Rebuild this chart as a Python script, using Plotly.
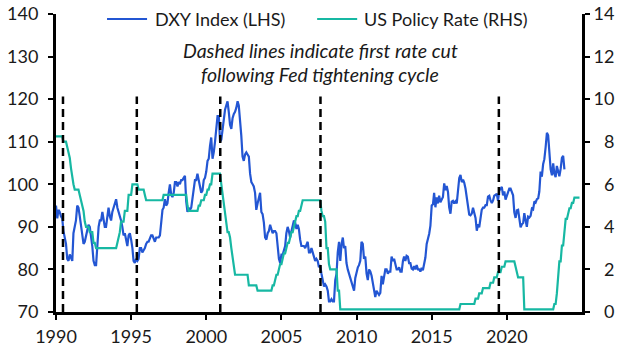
import pandas as pd
import plotly.graph_objects as go

start_month = "1990-01-01"

dxy = [
    95.0, 92.0, 94.0, 93.5, 92.5, 92.0, 89.0, 87.0, 86.0, 82.5, 82.0, 83.5,
    82.5, 82.0, 88.5, 90.5, 91.5, 95.0, 94.5, 92.5, 90.0, 89.0, 86.0, 86.5,
    88.0, 90.0, 90.5, 90.0, 88.0, 85.5, 82.0, 81.0, 81.0, 86.0, 90.0, 91.5,
    91.5, 93.5, 92.0, 90.0, 90.0, 92.0, 94.5, 92.5, 91.5, 93.5, 94.5, 95.5,
    96.5, 94.5, 93.5, 93.0, 91.5, 90.0, 88.0, 88.5, 87.0, 85.5, 88.0, 88.5,
    87.0, 85.0, 82.0, 81.5, 82.5, 82.0, 82.5, 85.0, 85.0, 84.0, 84.5, 85.0,
    86.0, 86.5, 86.5, 87.5, 88.0, 88.0, 87.0, 86.5, 87.5, 87.5, 87.5, 88.0,
    91.0, 94.0, 94.5, 96.5, 95.0, 95.5, 98.0, 100.0, 97.5, 97.0, 98.0, 100.5,
    100.5, 99.5, 100.5, 100.0, 101.0, 101.0, 101.5, 102.0, 96.0, 93.5, 94.5, 94.0,
    94.5, 97.0, 99.0, 101.0, 101.0, 102.5, 101.0, 99.0, 98.0, 98.5, 101.0, 101.5,
    103.0, 105.5, 106.0, 109.0, 111.0, 106.0, 107.5, 110.0, 113.0, 116.0, 116.0, 110.0,
    110.5, 113.5, 116.0, 117.5, 118.5, 119.5, 117.0, 114.0, 113.0, 115.5, 116.5, 117.0,
    118.0, 119.5, 118.5, 115.5, 111.5, 106.5, 105.5, 107.0, 107.5, 107.0, 106.5, 102.5,
    100.5, 100.0, 99.5, 98.0, 94.0, 95.5, 97.0, 98.0, 93.5, 93.0, 91.0, 87.5,
    87.0, 88.5, 89.0, 90.5, 89.5, 88.5, 89.0, 89.0, 88.5, 85.5, 82.5, 81.5,
    83.5, 83.5, 84.5, 85.5, 88.5, 90.0, 89.0, 87.5, 89.0, 90.0, 91.5, 91.0,
    89.5, 90.5, 89.5, 87.0, 85.5, 85.5, 85.5, 85.0, 86.0, 86.5, 84.0, 84.0,
    85.0, 84.0, 83.0, 82.0, 82.5, 82.0, 80.5, 81.0, 79.0, 77.5, 76.0, 76.5,
    76.0, 75.0, 72.5, 72.5, 73.0, 72.5, 72.5, 77.5, 79.0, 84.0, 86.5, 82.0,
    86.0, 87.5, 85.0, 85.5, 81.5, 80.0, 79.0, 78.5, 77.0, 76.0, 75.0, 78.0,
    79.5, 80.5, 81.0, 82.0, 86.5, 86.0, 82.5, 83.0, 79.0, 77.5, 80.0, 79.5,
    78.5, 76.8, 75.5, 73.5, 75.0, 74.5, 74.0, 74.5, 78.5, 76.5, 79.0, 80.0,
    80.0, 79.0, 79.5, 79.5, 83.0, 82.0, 82.5, 81.5, 80.0, 80.0, 80.5, 79.5,
    79.5, 82.0, 83.0, 82.0, 83.2, 83.0, 81.5, 81.5, 80.2, 80.0, 80.8, 80.0,
    81.0, 80.0, 80.0, 79.5, 80.4, 79.8, 81.5, 82.8, 86.0, 87.0, 88.4, 90.3,
    95.0, 95.3, 98.0, 94.6, 96.9, 95.5, 97.3, 95.8, 96.4, 97.0, 100.2, 98.6,
    99.6, 98.2, 94.6, 93.1, 95.9, 96.1, 95.5, 96.0, 95.5, 98.5, 101.5, 102.2,
    100.5, 101.1, 100.4, 99.0, 97.0, 95.6, 92.9, 92.7, 93.1, 94.5, 93.0, 92.1,
    89.1, 90.6, 89.9, 91.8, 94.0, 94.5, 94.5, 95.1, 95.1, 97.1, 97.3, 96.2,
    95.6, 96.2, 97.3, 97.5, 97.8, 96.1, 98.5, 98.9, 99.4, 97.4, 98.3, 96.4,
    97.4, 98.1, 99.0, 99.0, 98.3, 97.4, 93.4, 92.1, 93.9, 94.0, 91.9, 89.9,
    90.6, 90.9, 93.2, 91.3, 90.0, 92.4, 92.2, 92.6, 94.3, 94.1, 96.0, 95.7,
    96.5, 96.7, 98.3, 103.0, 101.8, 104.7, 105.9, 108.7, 112.1, 111.5, 105.9, 103.5,
    102.1, 104.9, 102.5, 101.7, 104.3, 102.9, 101.9, 103.6, 106.2, 106.7, 103.5,
]

policy_rate = [
    8.25, 8.25, 8.25, 8.25, 8.25, 8.25, 8.0, 8.0, 8.0, 7.75, 7.5, 7.25,
    6.75, 6.25, 6.0, 5.75, 5.75, 5.75, 5.75, 5.5, 5.25, 5.0, 4.75, 4.25,
    4.0, 4.0, 4.0, 3.75, 3.75, 3.75, 3.25, 3.25, 3.0, 3.0, 3.0, 3.0,
    3.0, 3.0, 3.0, 3.0, 3.0, 3.0, 3.0, 3.0, 3.0, 3.0, 3.0, 3.0,
    3.0, 3.25, 3.5, 3.75, 4.25, 4.25, 4.25, 4.75, 4.75, 4.75, 5.5, 5.5,
    5.5, 6.0, 6.0, 6.0, 6.0, 6.0, 5.75, 5.75, 5.75, 5.75, 5.75, 5.5,
    5.25, 5.25, 5.25, 5.25, 5.25, 5.25, 5.25, 5.25, 5.25, 5.25, 5.25, 5.25,
    5.25, 5.25, 5.5, 5.5, 5.5, 5.5, 5.5, 5.5, 5.5, 5.5, 5.5, 5.5,
    5.5, 5.5, 5.5, 5.5, 5.5, 5.5, 5.5, 5.5, 5.5, 5.0, 4.75, 4.75,
    4.75, 4.75, 4.75, 4.75, 4.75, 4.75, 5.0, 5.0, 5.25, 5.25, 5.25, 5.5,
    5.5, 5.75, 5.75, 6.0, 6.0, 6.5, 6.5, 6.5, 6.5, 6.5, 6.5, 6.5,
    6.0, 5.5, 5.0, 4.5, 4.0, 3.75, 3.75, 3.5, 3.0, 2.5, 2.0, 1.75,
    1.75, 1.75, 1.75, 1.75, 1.75, 1.75, 1.75, 1.75, 1.75, 1.75, 1.25, 1.25,
    1.25, 1.25, 1.25, 1.25, 1.25, 1.0, 1.0, 1.0, 1.0, 1.0, 1.0, 1.0,
    1.0, 1.0, 1.0, 1.0, 1.0, 1.25, 1.25, 1.5, 1.75, 1.75, 2.0, 2.25,
    2.25, 2.5, 2.75, 2.75, 3.0, 3.25, 3.25, 3.5, 3.75, 3.75, 4.0, 4.25,
    4.5, 4.5, 4.75, 4.75, 5.0, 5.25, 5.25, 5.25, 5.25, 5.25, 5.25, 5.25,
    5.25, 5.25, 5.25, 5.25, 5.25, 5.25, 5.25, 5.25, 4.75, 4.5, 4.5, 4.25,
    3.0, 3.0, 2.25, 2.0, 2.0, 2.0, 2.0, 2.0, 2.0, 1.0, 1.0, 0.125,
] + [0.125] * 12 * 7 + [
    0.125, 0.125, 0.125, 0.125, 0.125, 0.125, 0.125, 0.125, 0.125, 0.125, 0.125, 0.375,
    0.375, 0.375, 0.375, 0.375, 0.375, 0.375, 0.375, 0.375, 0.375, 0.375, 0.375, 0.625,
    0.625, 0.625, 0.875, 0.875, 0.875, 1.125, 1.125, 1.125, 1.125, 1.125, 1.125, 1.375,
    1.375, 1.375, 1.625, 1.625, 1.625, 1.875, 1.875, 1.875, 2.125, 2.125, 2.125, 2.375,
    2.375, 2.375, 2.375, 2.375, 2.375, 2.375, 2.375, 2.125, 1.875, 1.625, 1.625, 1.625,
    1.625, 1.625, 0.125, 0.125, 0.125, 0.125, 0.125, 0.125, 0.125, 0.125, 0.125, 0.125,
    0.125, 0.125, 0.125, 0.125, 0.125, 0.125, 0.125, 0.125, 0.125, 0.125, 0.125, 0.125,
    0.125, 0.125, 0.375, 0.375, 0.875, 1.625, 2.375, 2.375, 3.125, 3.125, 3.875, 4.375,
    4.375, 4.625, 4.875, 4.875, 5.125, 5.125, 5.375, 5.375, 5.375, 5.375, 5.375,
]

first_cut_dates = ["1990-06-20", "1995-05-19", "2000-12-06", "2007-08-08", "2019-06-21"]
x_tick_years = [1990, 1995, 2000, 2005, 2010, 2015, 2020]
left_ticks = [70, 80, 90, 100, 110, 120, 130, 140]
right_ticks = [0, 2, 4, 6, 8, 10, 12, 14]

dates = pd.date_range(start_month, periods=len(dxy), freq="MS")
rate_dates = pd.date_range(start_month, periods=len(policy_rate), freq="MS")

BLUE = "#2356d3"
TEAL = "#17b8a3"
FONT = "Lato"
TXT = "#1a1a1a"

fig = go.Figure()
fig.add_trace(go.Scatter(x=dates, y=dxy, mode="lines", name="DXY Index (LHS)",
                         line=dict(color=BLUE, width=2.2), yaxis="y"))
fig.add_trace(go.Scatter(x=rate_dates, y=policy_rate, mode="lines", name="US Policy Rate (RHS)",
                         line=dict(color=TEAL, width=2.2), yaxis="y2"))

for d in first_cut_dates:
    fig.add_shape(type="line", xref="x", yref="y", x0=d, x1=d, y0=70, y1=120.6,
                  line=dict(color="black", width=2.5, dash="8px,5px"), layer="above")

W, H = 629, 357
L, T = 56, 14
pw = 581.7 - 56
ph = 312 - 14
R = W - L - pw
B = H - T - ph

def px(x):
    return (x - L) / pw

def py(y):
    return (T + ph - y) / ph

# legend (manual)
for x0, x1, col, label, tx in [(107, 147, BLUE, "DXY Index (LHS)", 153),
                               (317, 357, TEAL, "US Policy Rate (RHS)", 362)]:
    fig.add_shape(type="line", xref="paper", yref="paper", x0=px(x0), x1=px(x1),
                  y0=py(19), y1=py(19), line=dict(color=col, width=2.2))
    fig.add_annotation(xref="paper", yref="paper", x=px(tx), y=py(19), text=label,
                       showarrow=False, xanchor="left", yanchor="middle",
                       font=dict(family=FONT, size=18, color=TXT))

fig.add_annotation(xref="paper", yref="paper", x=px(320), y=py(50),
                   text="<i>Dashed lines indicate first rate cut</i>", showarrow=False,
                   xanchor="center", yanchor="middle", font=dict(family=FONT, size=19.5, color=TXT))
fig.add_annotation(xref="paper", yref="paper", x=px(320), y=py(74),
                   text="<i>following Fed tightening cycle</i>", showarrow=False,
                   xanchor="center", yanchor="middle", font=dict(family=FONT, size=19.5, color=TXT))

axis_common = dict(showline=True, linecolor="black", linewidth=3, ticks="outside",
                   ticklen=5, tickwidth=2, tickcolor="black", showgrid=False, zeroline=False,
                   tickfont=dict(family=FONT, size=18, color=TXT))

fig.update_layout(
    width=W, height=H, margin=dict(l=L, r=R, t=T, b=B, autoexpand=False),
    paper_bgcolor="white", plot_bgcolor="white", showlegend=False,
    xaxis=dict(type="date", range=["1990-01-01", "2025-01-01"],
               tickvals=[f"{y}-01-01" for y in x_tick_years],
               ticktext=[str(y) for y in x_tick_years], ticklabelstandoff=1, **axis_common),
    yaxis=dict(range=[70, 140], tickvals=left_ticks, ticklabelstandoff=6, **axis_common),
    yaxis2=dict(range=[0, 14], tickvals=right_ticks,
                ticktext=[("\u2007" + str(v)) if v < 10 else str(v) for v in right_ticks],
                overlaying="y", side="right", **axis_common),
)

fig.write_html("out.html", config={"displayModeBar": False},
               post_script="document.body.style.margin='0';")
